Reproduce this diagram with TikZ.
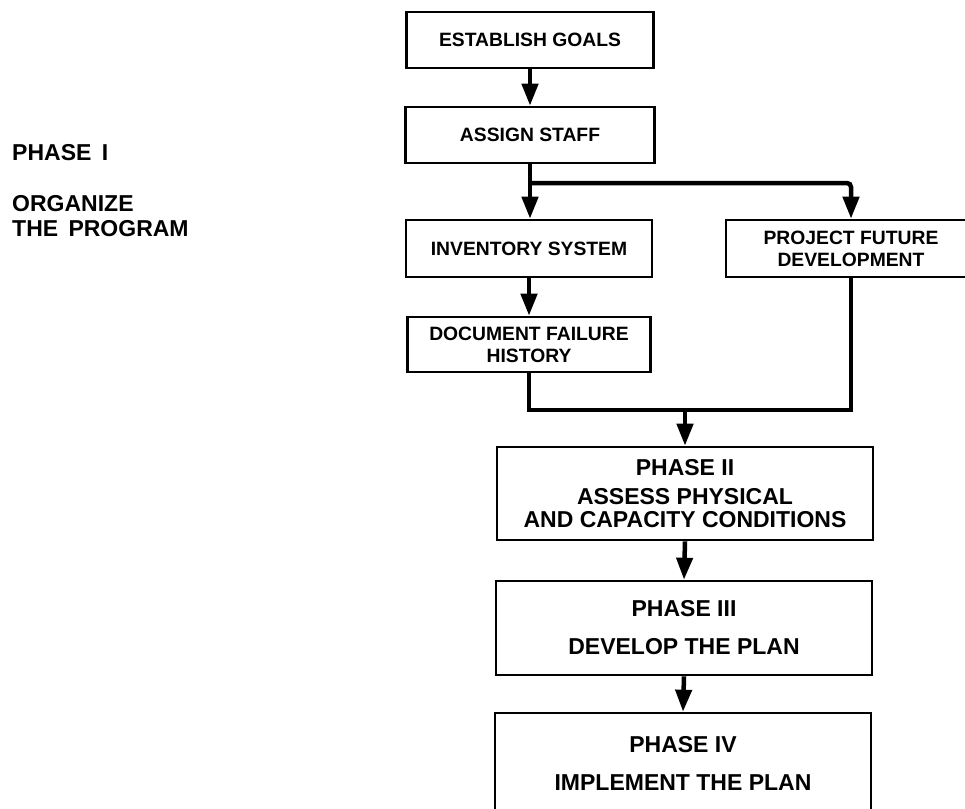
\documentclass[tikz,border=0pt]{standalone}
\usepackage{fontspec}
\setmainfont{Liberation Sans}
\usetikzlibrary{arrows.meta}

\begin{document}
\begin{tikzpicture}[x=1pt, y=-1pt]

\tikzstyle{box_style} = [draw, line width=2.6, inner sep=0, align=center, font=\bfseries\fontsize{19.3}{22}\selectfont]
\tikzstyle{phase_style} = [box_style, minimum width=376pt, font=\bfseries\fontsize{23}{23}\selectfont]
\tikzstyle{text_style} = [anchor=west, inner sep=0, align=left, font=\bfseries\fontsize{23}{25}\selectfont]
\tikzstyle{line_style} = [draw, line width=4.5]
\tikzstyle{edge_style} = [line_style, -{Triangle[width=16pt, length=22pt]}]

\useasboundingbox (0,0) rectangle (965,808);
\clip (0,0) rectangle (965,808);

\node[text_style] (phase1) at (12, 153) {PHASE\hspace{0.45em}I};
\node[text_style] (organize) at (12, 216.5) {ORGANIZE\\THE\hspace{0.45em}PROGRAM};

\node[box_style, minimum width=247pt, minimum height=56pt] (goals) at (530, 40) {ESTABLISH GOALS};
\node[box_style, minimum width=249pt, minimum height=56pt] (staff) at (530, 135) {ASSIGN STAFF};
\node[box_style, minimum width=246pt, minimum height=57pt] (inventory) at (529, 248.5) {INVENTORY SYSTEM};
\node[box_style, minimum width=250pt, minimum height=57pt] (future) at (851, 248.5) {PROJECT FUTURE\\DEVELOPMENT};
\node[box_style, minimum width=243pt, minimum height=55pt] (failure) at (529, 344.5) {DOCUMENT FAILURE\\HISTORY};
\node[phase_style, minimum height=93pt] (phase2) at (685, 493.5) {PHASE II\\[6pt]ASSESS PHYSICAL\\AND CAPACITY CONDITIONS};
\node[phase_style, minimum height=94pt] (phase3) at (684, 628) {PHASE III\\[15pt]DEVELOP THE PLAN};
\node[phase_style, minimum height=100pt] (phase4) at (683, 763) {PHASE IV\\[15pt]IMPLEMENT THE PLAN};

\coordinate (split) at (530, 183);
\coordinate (join) at (685, 410);

\draw[edge_style] (goals.south) -- (staff.north);
\draw[line_style] (staff.south) -- (split);
\draw[edge_style] (split) -- (split |- inventory.north);
\draw[edge_style, rounded corners=4pt] (split) -| (future.north);
\draw[edge_style] (inventory.south) -- (failure.north);
\draw[line_style] (failure.south) |- (join) -| (future.south);
\draw[edge_style] (join) -- (phase2.north);
\draw[edge_style] (phase2.south) -- (phase3.north);
\draw[edge_style] (phase3.south) -- (phase4.north);

\end{tikzpicture}
\end{document}
